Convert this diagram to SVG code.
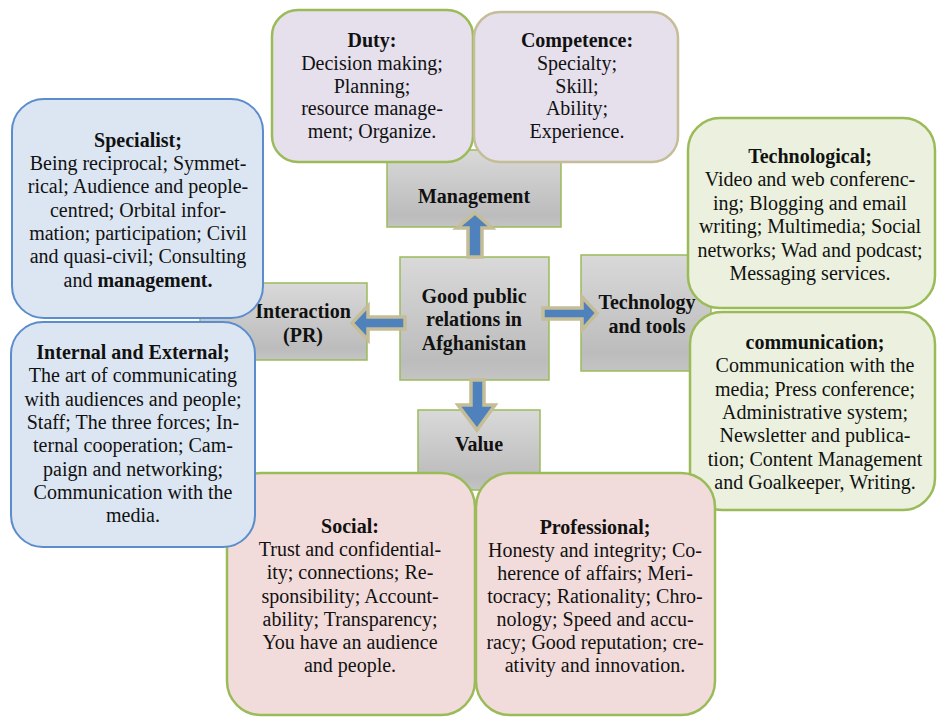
<svg xmlns="http://www.w3.org/2000/svg" width="939" height="717" viewBox="0 0 939 717">
<defs>
<linearGradient id="gray" x1="0" y1="0" x2="0" y2="1">
<stop offset="0" stop-color="#d9d9d9"/>
<stop offset="0.85" stop-color="#bcbcbc"/>
<stop offset="1" stop-color="#c4c4c4"/>
</linearGradient>
<style>
text{font-family:"Liberation Serif","Times New Roman",serif;font-size:20px;fill:#111;text-anchor:middle}
.b{font-weight:bold}
.gbox{fill:url(#gray);stroke:#9bbb59;stroke-width:1.5}
.lav{fill:#e5e0ec;stroke-width:2.5}
.blue{fill:#dce6f2;stroke:#5b8ccc;stroke-width:2}
.green{fill:#ebf1de;stroke:#9bbb59;stroke-width:2.5}
.pink{fill:#f2dcdb;stroke:#9bbb59;stroke-width:2.5}
.arr{fill:#4f81bd;stroke:#c4bd97;stroke-width:3.5;stroke-linejoin:miter}
</style>
</defs>
<rect width="939" height="717" fill="#fff"/>

<g id="management">
<rect class="gbox" x="387" y="150" width="174" height="77"/>
<text class="b" x="474" y="203">Management</text>
</g>
<g id="interaction">
<rect class="gbox" x="200" y="283" width="167" height="77"/>
<text class="b" x="303" y="318">Interaction</text>
<text class="b" x="303" y="342">(PR)</text>
</g>
<g id="technology">
<rect class="gbox" x="581" y="255" width="130" height="116"/>
<text class="b" x="647" y="309">Technology</text>
<text class="b" x="647" y="333">and tools</text>
</g>
<g id="value">
<rect class="gbox" x="418" y="410" width="122" height="80"/>
<text class="b" x="479" y="451">Value</text>
</g>
<g id="center">
<rect class="gbox" x="400" y="257" width="149" height="123"/>
<text class="b" x="474" y="303">Good public</text>
<text class="b" x="474" y="326">relations in</text>
<text class="b" x="474" y="350">Afghanistan</text>
</g>

<g id="duty">
<rect class="lav" x="272" y="10" width="201" height="152" rx="26" stroke="#9bbb59"/>
<text class="b" x="372" y="47">Duty:</text>
<text x="372" y="70">Decision making;</text>
<text x="372" y="93">Planning;</text>
<text x="372" y="115">resource manage-</text>
<text x="372" y="138">ment; Organize.</text>
</g>
<g id="competence">
<rect class="lav" x="474" y="12" width="204" height="150" rx="26" stroke="#c4bd97"/>
<text class="b" x="577" y="47">Competence:</text>
<text x="577" y="70">Specialty;</text>
<text x="577" y="93">Skill;</text>
<text x="577" y="115">Ability;</text>
<text x="577" y="138">Experience.</text>
</g>

<g id="technological">
<rect class="green" x="688" y="118" width="247" height="190" rx="32"/>
<text class="b" x="810" y="163">Technological;</text>
<text x="810" y="186">Video and web conferenc-</text>
<text x="810" y="210">ing; Blogging and email</text>
<text x="810" y="233">writing; Multimedia; Social</text>
<text x="810" y="257">networks; Wad and podcast;</text>
<text x="810" y="280">Messaging services.</text>
</g>
<g id="communication">
<rect class="green" x="690" y="312" width="245" height="198" rx="32"/>
<text class="b" x="815" y="349">communication;</text>
<text x="815" y="372">Communication with the</text>
<text x="815" y="396">media; Press conference;</text>
<text x="815" y="419">Administrative system;</text>
<text x="815" y="442">Newsletter and publica-</text>
<text x="815" y="466">tion; Content Management</text>
<text x="815" y="489">and Goalkeeper, Writing.</text>
</g>

<g id="social">
<rect class="pink" x="227" y="473" width="248" height="242" rx="34"/>
<text class="b" x="350" y="533">Social:</text>
<text x="350" y="556">Trust and confidential-</text>
<text x="350" y="579">ity; connections; Re-</text>
<text x="350" y="603">sponsibility; Account-</text>
<text x="350" y="626">ability; Transparency;</text>
<text x="350" y="649">You have an audience</text>
<text x="350" y="672">and people.</text>
</g>
<g id="professional">
<rect class="pink" x="476" y="473" width="239" height="242" rx="34"/>
<text class="b" x="595" y="534">Professional;</text>
<text x="595" y="557">Honesty and integrity; Co-</text>
<text x="595" y="580">herence of affairs; Meri-</text>
<text x="595" y="603">tocracy; Rationality; Chro-</text>
<text x="595" y="626">nology; Speed and accu-</text>
<text x="595" y="649">racy; Good reputation; cre-</text>
<text x="595" y="672">ativity and innovation.</text>
</g>

<g id="specialist">
<rect class="blue" x="12" y="99" width="251" height="219" rx="32"/>
<text class="b" x="138" y="147">Specialist;</text>
<text x="138" y="170">Being reciprocal; Symmet-</text>
<text x="138" y="193">rical; Audience and people-</text>
<text x="138" y="217">centred; Orbital infor-</text>
<text x="138" y="240">mation; participation; Civil</text>
<text x="138" y="263">and quasi-civil; Consulting</text>
<text x="138" y="287">and <tspan class="b">management.</tspan></text>
</g>
<g id="internal">
<rect class="blue" x="11" y="322" width="244" height="225" rx="32"/>
<text class="b" x="133" y="359">Internal and External;</text>
<text x="133" y="382">The art of communicating</text>
<text x="133" y="406">with audiences and people;</text>
<text x="133" y="429">Staff; The three forces; In-</text>
<text x="133" y="452">ternal cooperation; Cam-</text>
<text x="133" y="476">paign and networking;</text>
<text x="133" y="499">Communication with the</text>
<text x="133" y="522">media.</text>
</g>

<g id="connectors">
<polygon class="arr" points="468,257 468,228 457,228 475,213 492,228 482,228 482,257"/>
<polygon class="arr" points="405,317 368,317 368,306 352,323 368,340 368,329 405,329"/>
<polygon class="arr" points="543,308 582,308 582,297 597,313 582,330 582,319 543,319"/>
<polygon class="arr" points="471,380 471,405 458,405 477,430 495,405 484,405 484,380"/>
</g>
</svg>
